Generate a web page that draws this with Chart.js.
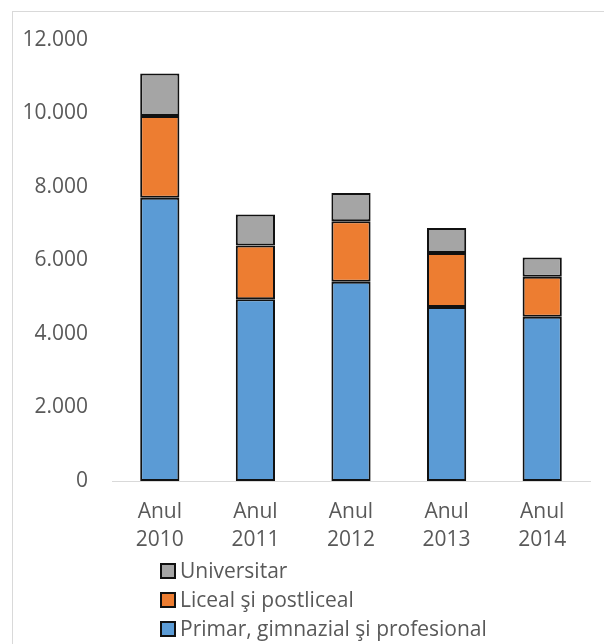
<!DOCTYPE html>
<html>
<head>
<meta charset="utf-8">
<script src="https://cdn.jsdelivr.net/npm/chart.js@4"></script>
<style>
  html, body { margin: 0; padding: 0; background: #fff; }
  #wrap { position: relative; width: 604px; height: 644px; overflow: hidden; }
  #frame { position: absolute; left: 12px; top: 11px; width: 700px; height: 700px; border: 1px solid #d9d9d9; }
  #chartBox { position: absolute; left: 0; top: 0; width: 604px; height: 560px; }
  #legend { position: absolute; left: 160px; top: 556px; font-family: "Open Sans", sans-serif; font-size: 21px; color: #595959; }
  #legend div { height: 29px; line-height: 29px; white-space: nowrap; }
  #legend span.box { display: inline-block; width: 12px; height: 12px; border: 2px solid #111; margin-right: 4px; vertical-align: -1px; }
</style>
</head>
<body>
<div id="wrap">
  <div id="frame"></div>
  <div id="chartBox"><canvas id="myChart"></canvas></div>
  <div id="legend"></div>
</div>
<script>
const years = [['Anul', '2010'], ['Anul', '2011'], ['Anul', '2012'], ['Anul', '2013'], ['Anul', '2014']];
const primar = [7710, 4945, 5425, 4735, 4470];
const liceal = [2220, 1460, 1640, 1470, 1090];
const universitar = [1160, 850, 770, 680, 520];
const yTicks = [0, 2000, 4000, 6000, 8000, 10000, 12000];

const seriesNames = ['Primar, gimnazial şi profesional', 'Liceal şi postliceal', 'Universitar'];
const seriesColors = ['#5B9BD5', '#ED7D31', '#A5A5A5'];

const ctx = document.getElementById('myChart');

const chart = new Chart(ctx, {
  type: 'bar',
  data: {
    labels: years,
    datasets: [primar, liceal, universitar].map((d, i) => ({
      label: seriesNames[i],
      data: d,
      backgroundColor: seriesColors[i],
      borderColor: '#111',
      borderWidth: 2,
      borderSkipped: false,
      barPercentage: 0.41,
      categoryPercentage: 1
    }))
  },
  options: {
    responsive: true,
    maintainAspectRatio: false,
    animation: false,
    layout: { padding: { top: 40, right: 14, left: 0, bottom: 0 } },
    plugins: {
      legend: { display: false },
      tooltip: { enabled: false },
      title: { display: false }
    },
    scales: {
      x: {
        stacked: true,
        grid: { display: false, drawTicks: false },
        border: { display: true, color: '#d9d9d9', width: 1 },
        ticks: {
          color: '#595959',
          padding: 17,
          font: { family: 'Open Sans', size: 21, lineHeight: 1.33 },
          maxRotation: 0
        },
        afterFit: (s) => { s.height = 79; }
      },
      y: {
        stacked: true,
        min: 0,
        max: 12000,
        afterBuildTicks: (s) => { s.ticks = yTicks.map(v => ({ value: v })); },
        grid: { display: false, drawTicks: false },
        border: { display: false },
        ticks: {
          color: '#595959',
          padding: 24,
          font: { family: 'Open Sans', size: 21 },
          callback: (v) => v === 0 ? '0' : v.toLocaleString('de-DE')
        },
        afterFit: (s) => { s.width = 112; }
      }
    }
  }
});

// legend, in reverse order like the original
const legendEl = document.getElementById('legend');
for (let i = seriesNames.length - 1; i >= 0; i--) {
  const row = document.createElement('div');
  const box = document.createElement('span');
  box.className = 'box';
  box.style.background = seriesColors[i];
  row.appendChild(box);
  row.appendChild(document.createTextNode(seriesNames[i]));
  legendEl.appendChild(row);
}
</script>
</body>
</html>
